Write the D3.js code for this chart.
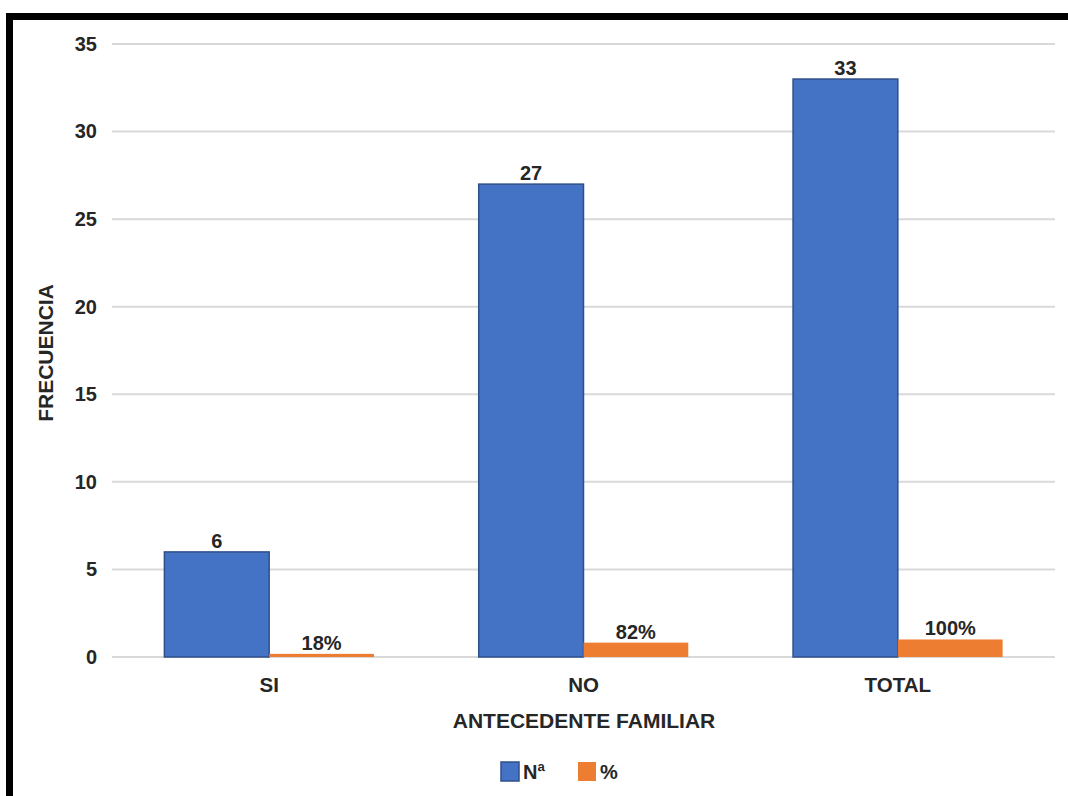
<!DOCTYPE html>
<html>
<head>
<meta charset="utf-8">
<script src="https://cdn.jsdelivr.net/npm/d3@7"></script>
<style>
  html, body { margin: 0; padding: 0; background: #fff; }
  svg { display: block; }
  text { font-family: "Liberation Sans", Arial, sans-serif; font-weight: bold; fill: #262626; }
</style>
</head>
<body>
<svg id="chart" width="1068" height="796"></svg>
<script>
// Categories and series
const categories = ["SI", "NO", "TOTAL"];
const countValues = [6, 27, 33];          // Nª
const percentValues = [0.18, 0.82, 1.00]; // % (as fraction)
const percentLabels = ["18%", "82%", "100%"];
const yTicks = [0, 5, 10, 15, 20, 25, 30, 35];
const seriesNames = ["Nª", "%"];
const seriesColors = ["#4472C4", "#ED7D31"];

const svg = d3.select("#chart");

// Frame lines on top and left
svg.append("path")
  .attr("d", "M9.5,800 L9.5,16.5 L1070,16.5")
  .attr("fill", "none")
  .attr("stroke", "#000")
  .attr("stroke-width", 7);

const plot = { left: 112, right: 1055, top: 44, bottom: 657 };

const y = d3.scaleLinear().domain([0, 35]).range([plot.bottom, plot.top]);
const x = d3.scaleBand().domain(categories)
  .range([plot.left, plot.right])
  .paddingInner(1 / 3)
  .paddingOuter(1 / 6);
const xs = d3.scaleBand().domain(seriesNames).range([0, x.bandwidth()]);

// Gridlines
svg.append("g")
  .selectAll("line")
  .data(yTicks)
  .join("line")
  .attr("x1", plot.left).attr("x2", plot.right)
  .attr("y1", d => y(d)).attr("y2", d => y(d))
  .attr("stroke", "#d9d9d9")
  .attr("stroke-width", 2);

// Y axis labels
const yAxis = d3.axisLeft(y).tickValues(yTicks).tickSize(0).tickPadding(0);
const gy = svg.append("g").attr("transform", "translate(97,0)").call(yAxis);
gy.select(".domain").remove();
gy.selectAll("text")
  .attr("font-size", 20)
  .attr("fill", "#262626")
  .style("font-family", '"Liberation Sans", Arial, sans-serif')
  .style("font-weight", "bold");

// X axis labels
const xAxis = d3.axisBottom(x).tickSize(0).tickPadding(0);
const gx = svg.append("g").attr("transform", "translate(0,677)").call(xAxis);
gx.select(".domain").remove();
gx.selectAll("text")
  .attr("font-size", 20.5)
  .attr("fill", "#262626")
  .style("font-family", '"Liberation Sans", Arial, sans-serif')
  .style("font-weight", "bold");

// Bars
const groups = svg.append("g")
  .selectAll("g")
  .data(categories.map((c, i) => ({ c, n: countValues[i], p: percentValues[i], pl: percentLabels[i] })))
  .join("g")
  .attr("transform", d => `translate(${x(d.c)},0)`);

groups.append("rect")
  .attr("x", xs("Nª"))
  .attr("width", xs.bandwidth())
  .attr("y", d => y(d.n))
  .attr("height", d => y(0) - y(d.n))
  .attr("fill", seriesColors[0])
  .attr("stroke", "#2F4F8A")
  .attr("stroke-width", 1.5);

groups.append("rect")
  .attr("x", xs("%"))
  .attr("width", xs.bandwidth())
  .attr("y", d => y(d.p))
  .attr("height", d => y(0) - y(d.p))
  .attr("fill", seriesColors[1]);

// Value labels
groups.append("text")
  .attr("x", xs("Nª") + xs.bandwidth() / 2)
  .attr("y", d => y(d.n) - 4)
  .attr("text-anchor", "middle")
  .attr("font-size", 20)
  .text(d => d.n);

groups.append("text")
  .attr("x", xs("%") + xs.bandwidth() / 2)
  .attr("y", d => y(d.p) - 4)
  .attr("text-anchor", "middle")
  .attr("font-size", 20)
  .text(d => d.pl);

// Axis titles
svg.append("text")
  .attr("x", 584)
  .attr("y", 728)
  .attr("text-anchor", "middle")
  .attr("font-size", 21)
  .text("ANTECEDENTE FAMILIAR");

svg.append("text")
  .attr("transform", "translate(53,353) rotate(-90)")
  .attr("text-anchor", "middle")
  .attr("font-size", 21)
  .text("FRECUENCIA");

// Legend
const legend = svg.append("g").attr("transform", "translate(501,762)");
const legendX = [0, 77];
seriesNames.forEach((name, i) => {
  const g = legend.append("g").attr("transform", `translate(${legendX[i]},0)`);
  g.append("rect")
    .attr("width", 18).attr("height", 19)
    .attr("fill", seriesColors[i])
    .attr("stroke", i === 0 ? "#2F4F8A" : "none")
    .attr("stroke-width", 1.5);
  g.append("text")
    .attr("x", 22).attr("y", 17)
    .attr("font-size", 20)
    .text(name);
});
</script>
</body>
</html>
